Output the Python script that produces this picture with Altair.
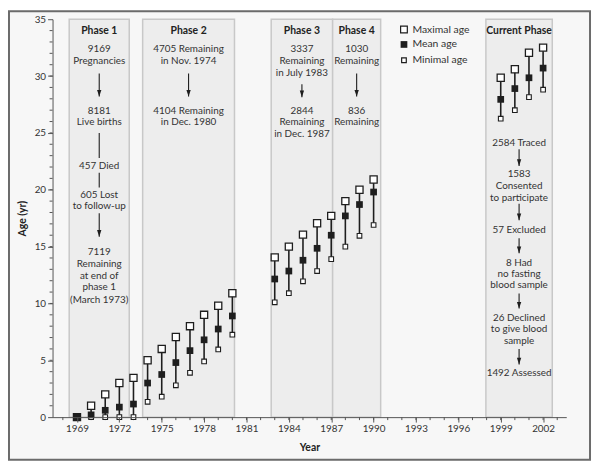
import altair as alt
import pandas as pd

# ---------------- data ----------------
years = [1969, 1970, 1971, 1972, 1973, 1974, 1975, 1976, 1977, 1978, 1979, 1980,
         1983, 1984, 1985, 1986, 1987, 1988, 1989, 1990, 1999, 2000, 2001, 2002]
age_max = [0, 1.0, 2.0, 3.0, 3.45, 5.0, 6.0, 7.05, 8.0, 9.0, 9.8, 10.9,
           14.05, 15.0, 16.05, 17.05, 17.7, 19.0, 20.0, 20.9, 29.85, 30.6, 32.05, 32.5]
age_mean = [0, 0.2, 0.6, 0.88, 1.15, 3.0, 3.75, 4.8, 5.85, 6.8, 7.75, 8.9,
            12.15, 12.85, 13.8, 14.85, 16.0, 17.7, 18.7, 19.8, 27.95, 28.9, 29.85, 30.7]
age_min = [0, 0, 0, 0, 0, 1.35, 1.8, 2.8, 3.9, 4.9, 5.95, 7.25,
           10.1, 10.9, 11.95, 12.85, 13.9, 15.0, 15.95, 16.9, 26.25, 27.0, 28.15, 28.8]

phase_names = ["Phase 1", "Phase 2", "Phase 3", "Phase 4", "Current Phase"]
phase_start = [1968.45, 1973.65, 1982.75, 1987.1, 1997.95]
phase_end = [1972.7, 1980.15, 1987.1, 1990.5, 2002.65]
phase_top = 35
phase_title_age = 33.95

x_ticks = [1969, 1972, 1975, 1978, 1981, 1984, 1987, 1990, 1993, 1996, 1999, 2002]
y_ticks = [0, 5, 10, 15, 20, 25, 30, 35]
x_minor = list(range(1968, 2004))
y_minor = list(range(1, 35))

note_phase = [0] * 12 + [1] * 4 + [2] * 6 + [3] * 4 + [4] * 12
note_age = [32.4, 31.36, 26.95, 25.94, 22.05, 19.56, 18.54, 14.5, 13.46, 12.45, 11.4, 10.33,
            32.4, 31.36, 26.95, 25.94,
            32.4, 31.36, 30.3, 26.95, 25.94, 24.86,
            32.4, 31.36, 26.95, 25.94,
            24.13, 21.38, 20.37, 19.3, 16.45, 13.55, 12.59, 11.6, 8.7, 7.72, 6.73, 3.92]
note_text = ["9169", "Pregnancies", "8181", "Live births", "457 Died", "605 Lost",
             "to follow-up", "7119", "Remaining", "at end of", "phase 1", "(March 1973)",
             "4705 Remaining", "in Nov. 1974", "4104 Remaining", "in Dec. 1980",
             "3337", "Remaining", "in July 1983", "2844", "Remaining", "in Dec. 1987",
             "1030", "Remaining", "836", "Remaining",
             "2584 Traced", "1583", "Consented", "to participate", "57 Excluded",
             "8 Had", "no fasting", "blood sample", "26 Declined", "to give blood",
             "sample", "1492 Assessed"]

arrow_phase = [0, 0, 0, 0, 1, 2, 3, 4, 4, 4, 4, 4]
arrow_from = [30.23, 25.0, 21.5, 17.93, 30.23, 29.27, 30.23, 23.56, 18.77, 15.73, 10.88, 6.0]
arrow_to = [28.2, 22.8, 20.2, 15.87, 28.2, 28.14, 28.2, 22.1, 17.32, 14.42, 9.55, 4.64]
arrow_head = [True, False, False, True, True, True, True, True, True, True, True, True]

legend_labels = ["Maximal age", "Mean age", "Minimal age"]
legend_age = [34.09, 32.78, 31.39]
legend_sym_x = 1992.15
legend_text_x = 1992.75

# ---------------- tables ----------------
FONT = "Lato"
TXT = "#333333"
INK = "#1e1e1e"

df = pd.DataFrame({"year": years, "max": age_max, "mean": age_mean, "min": age_min})
centers = [(a + b) / 2 for a, b in zip(phase_start, phase_end)]
phases = pd.DataFrame({"name": phase_names, "x0": phase_start, "x1": phase_end,
                       "top": [phase_top] * 5, "bottom": [0] * 5,
                       "cx": centers, "ty": [phase_title_age] * 5})
notes = pd.DataFrame({"cx": [centers[i] for i in note_phase], "age": note_age, "text": note_text})
arrows = pd.DataFrame({"cx": [centers[i] for i in arrow_phase], "a0": arrow_from,
                       "a1": arrow_to, "head": arrow_head})
heads = arrows[arrows["head"]]
legend = pd.DataFrame({"label": legend_labels, "age": legend_age,
                       "sx": [legend_sym_x] * 3, "tx": [legend_text_x] * 3})
xminor = pd.DataFrame({"v": x_minor})
yminor = pd.DataFrame({"v": y_minor})

W, H = 519, 402
xs = alt.Scale(domain=[1967.27, 2003.64], nice=False, zero=False)
ys = alt.Scale(domain=[0, 35], nice=False, zero=False)


def X(f):
    return alt.X(f, type="quantitative", scale=xs)


def Y(f):
    return alt.Y(f, type="quantitative", scale=ys)


frame = alt.Chart(pd.DataFrame({"k": [0]})).mark_rect(
    fill="#f7f7f7", stroke="#6b6b6b", strokeWidth=2
).encode(x=alt.value(-44), x2=alt.value(W + 24), y=alt.value(-8), y2=alt.value(H + 43))

boxes = alt.Chart(phases).mark_rect(
    fill="#ededed", stroke="#c8c8c8", strokeWidth=1.5
).encode(x=X("x0"), x2="x1", y=Y("bottom"), y2="top")

titles = alt.Chart(phases).mark_text(
    font=FONT, fontSize=10.5, fontWeight="bold", color="#222222", baseline="middle"
).encode(x=X("cx"), y=Y("ty"), text="name:N")

note_txt = alt.Chart(notes).mark_text(
    font=FONT, fontSize=10, color=TXT, baseline="middle"
).encode(x=X("cx"), y=Y("age"), text="text:N")

arrow_lines = alt.Chart(arrows).mark_rule(color=INK, strokeWidth=1.1).encode(
    x=X("cx"), y=Y("a0"), y2="a1")

arrow_heads = alt.Chart(heads).mark_point(
    shape="M-0.65,-2L0.65,-2L0,0Z", filled=True, fill=INK, stroke=None, size=45, opacity=1
).encode(x=X("cx"), y=Y("a1"))

xtick_minor = alt.Chart(xminor).mark_rule(color="#555555", strokeWidth=1).encode(
    x=X("v"), y=alt.value(H), y2=alt.value(H + 3))
ytick_minor = alt.Chart(yminor).mark_rule(color="#555555", strokeWidth=1).encode(
    y=Y("v"), x=alt.value(-3), x2=alt.value(0))

axis_common = dict(grid=False, tickSize=5, labelFont=FONT, labelFontSize=10, labelColor=TXT,
                   labelPadding=2, titleFont=FONT, titleFontSize=10.5, titleFontWeight="bold",
                   titleColor="#222222", domainColor="#555555", tickColor="#555555",
                   labelOverlap=False, zindex=2)

bars = alt.Chart(df).mark_rule(color=INK, strokeWidth=1.6).encode(
    x=alt.X("year:Q", scale=xs, title="Year",
            axis=alt.Axis(values=x_ticks, format="d", titlePadding=9, labelFlush=False,
                          **axis_common)),
    y=alt.Y("min:Q", scale=ys, title="Age (yr)",
            axis=alt.Axis(values=y_ticks, titlePadding=7, **axis_common)),
    y2="max:Q")

pmax = alt.Chart(df).mark_point(
    shape="square", filled=True, fill="#ffffff", stroke=INK, strokeWidth=1.3, size=52, opacity=1
).encode(x=X("year"), y=Y("max"))
pmin = alt.Chart(df).mark_point(
    shape="square", filled=True, fill="#ffffff", stroke=INK, strokeWidth=1.1, size=22, opacity=1
).encode(x=X("year"), y=Y("min"))
pmean = alt.Chart(df).mark_point(
    shape="square", filled=True, fill=INK, stroke=None, size=46, opacity=1
).encode(x=X("year"), y=Y("mean"))

leg_sym = alt.Chart(legend).mark_point(filled=True, opacity=1).encode(
    x=X("sx"), y=Y("age"),
    shape=alt.value("square"),
    size=alt.condition(alt.datum.label == "Minimal age", alt.value(22), alt.value(46)),
    fill=alt.condition(alt.datum.label == "Mean age", alt.value(INK), alt.value("#ffffff")),
    stroke=alt.value(INK),
    strokeWidth=alt.condition(alt.datum.label == "Mean age", alt.value(0), alt.value(1.2)))
leg_txt = alt.Chart(legend).mark_text(
    font=FONT, fontSize=10.5, color=TXT, align="left", baseline="middle"
).encode(x=X("tx"), y=Y("age"), text="label:N")

chart = alt.layer(
    frame, boxes, xtick_minor, ytick_minor, bars, pmax, pmin, pmean,
    titles, note_txt, arrow_lines, arrow_heads, leg_sym, leg_txt
).properties(
    width=W, height=H,
    autosize=alt.AutoSizeParams(type="none"),
    padding={"left": 45, "top": 9, "right": 26, "bottom": 44},
    background="white",
).configure_view(stroke=None)

chart.save("out.html", embed_options={"renderer": "svg", "actions": False})
